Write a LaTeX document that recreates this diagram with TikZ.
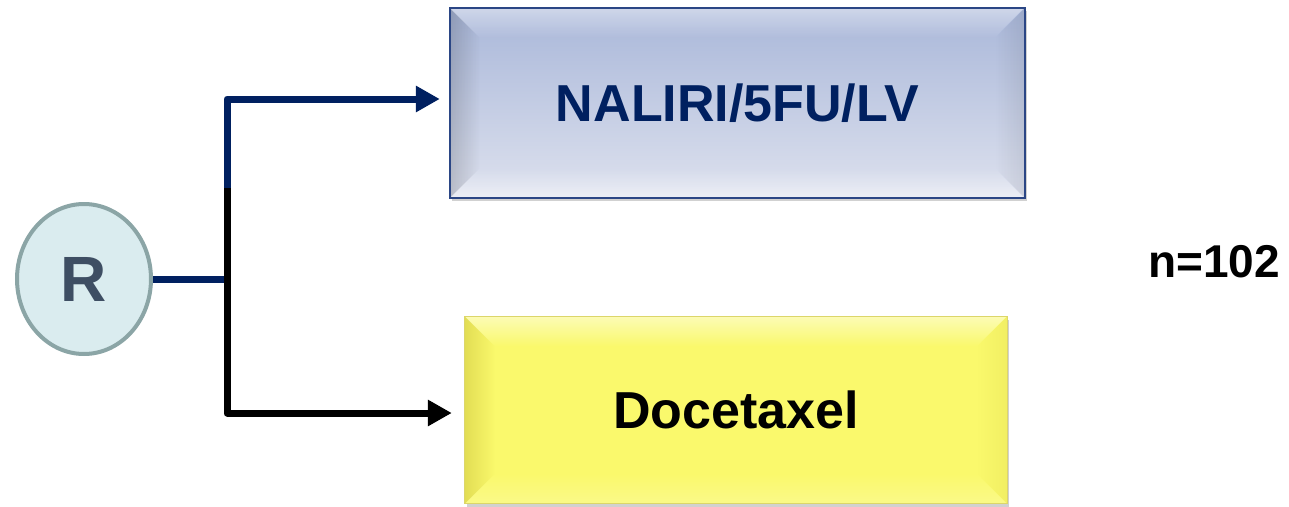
\documentclass[tikz,border=0pt]{standalone}
\usepackage{fontspec}
\setmainfont{Liberation Sans}
\usetikzlibrary{arrows.meta,shapes.geometric,calc,shadows,fadings}
\definecolor{navy}{HTML}{002060}
\definecolor{rfill}{HTML}{DAECEF}
\definecolor{rborder}{HTML}{8BA5A6}
\definecolor{rtext}{HTML}{3E4E63}
\definecolor{boxtop}{HTML}{A9B7D9}
\definecolor{boxbot}{HTML}{DDE1EE}
\definecolor{boxborder}{HTML}{2B4685}
\definecolor{yel}{HTML}{FAF96C}
\definecolor{yeldark}{HTML}{D9D24A}
\definecolor{yelborder}{HTML}{DCD66A}
\tikzfading[name=fromleft, left color=transparent!0, right color=transparent!100]
\tikzfading[name=fromright, left color=transparent!100, right color=transparent!0]
\tikzfading[name=fromtop, top color=transparent!0, bottom color=transparent!100]
\tikzfading[name=frombottom, top color=transparent!100, bottom color=transparent!0]
\begin{document}
\begin{tikzpicture}[x=1pt,y=-1pt,
  conn/.style={line width=7pt,line join=round,line cap=butt},
  tip/.style={-{Triangle[length=24pt,width=25pt]}},
  bigtext/.style={font=\bfseries\fontsize{52}{60}\selectfont},
  shadowed/.style={drop shadow={shadow xshift=2pt,shadow yshift=-3pt,opacity=.3,fill=black!60}}]
\useasboundingbox (0,0) rectangle (1289,506);

% randomisation node
\node[ellipse,minimum width=134pt,minimum height=150pt,inner sep=0pt,
      draw=rborder,line width=4pt,fill=rfill,text=rtext,
      font=\bfseries\fontsize{64}{70}\selectfont] (R) at (84,279) {R};

% top box
\node[rectangle,minimum width=575pt,minimum height=190pt,inner sep=0pt,
      top color=boxtop,bottom color=boxbot,shadowed] (A) at (737.5,103) {};
\fill[black,opacity=.16,path fading=fromleft] (A.north west) -- ($(A.north west)+(30,30)$) -- ($(A.south west)+(30,-30)$) -- (A.south west) -- cycle;
\fill[white,opacity=.45,path fading=fromtop] (A.north west) -- (A.north east) -- ($(A.north east)+(-30,30)$) -- ($(A.north west)+(30,30)$) -- cycle;
\fill[black,opacity=.08,path fading=fromright] (A.north east) -- (A.south east) -- ($(A.south east)+(-30,-30)$) -- ($(A.north east)+(-30,30)$) -- cycle;
\fill[white,opacity=.45,path fading=frombottom] (A.south west) -- (A.south east) -- ($(A.south east)+(-30,-30)$) -- ($(A.south west)+(30,-30)$) -- cycle;
\draw[boxborder,line width=1.6pt] (A.north west) rectangle (A.south east);
\node[bigtext,text=navy] (Atext) at (A.center) {NALIRI/5FU/LV};

% bottom box
\node[rectangle,minimum width=542pt,minimum height=187pt,inner sep=0pt,
      fill=yel,shadowed] (B) at (736,410) {};
\fill[yeldark,opacity=.7,path fading=fromleft] (B.north west) -- ($(B.north west)+(30,30)$) -- ($(B.south west)+(30,-30)$) -- (B.south west) -- cycle;
\fill[white,opacity=.5,path fading=fromtop] (B.north west) -- (B.north east) -- ($(B.north east)+(-30,30)$) -- ($(B.north west)+(30,30)$) -- cycle;
\fill[yeldark,opacity=.25,path fading=fromright] (B.north east) -- (B.south east) -- ($(B.south east)+(-30,-30)$) -- ($(B.north east)+(-30,30)$) -- cycle;
\fill[white,opacity=.2,path fading=frombottom] (B.south west) -- (B.south east) -- ($(B.south east)+(-30,-30)$) -- ($(B.south west)+(30,-30)$) -- cycle;
\draw[yelborder,line width=0.8pt] (B.north west) rectangle (B.south east);
\node[bigtext,text=black] (Btext) at (B.center) {Docetaxel};

% sample size
\node[font=\bfseries\fontsize{46}{52}\selectfont] (n) at (1214,262) {n=102};

% connectors
\coordinate (J) at (227,279);
\coordinate (M) at (227,188);
\draw[conn,navy] (R.east) -- (J);
\draw[conn,navy,tip] (M) |- ($(A.west)+(-10,-4)$);
\draw[conn,black,tip] (M) |- ($(B.west)+(-13,3)$);
\end{tikzpicture}
\end{document}
